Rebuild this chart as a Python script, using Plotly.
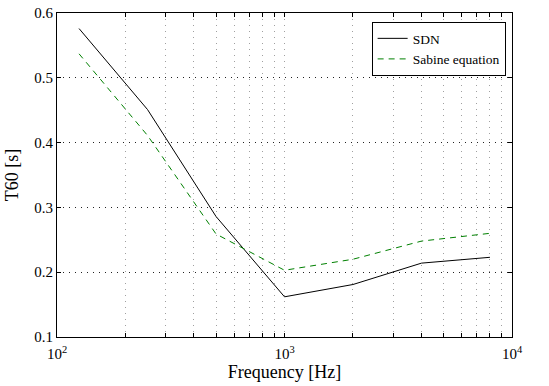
import plotly.graph_objects as go

freq = [125, 250, 500, 1000, 2000, 4000, 8000]
sdn = [0.576, 0.451, 0.286, 0.162, 0.181, 0.214, 0.223]
sabine = [0.537, 0.411, 0.259, 0.203, 0.220, 0.248, 0.260]

x_tickvals = [m * 10 ** e for e in (2, 3) for m in range(1, 10)] + [10000]
x_ticktext = ["10<sup>2</sup>" if v == 100 else "10<sup>3</sup>" if v == 1000 else
              "10<sup>4</sup>" if v == 10000 else "" for v in x_tickvals]
y_tickvals = [0.1, 0.2, 0.3, 0.4, 0.5, 0.6]

font = "Liberation Serif"

fig = go.Figure()
fig.add_trace(go.Scatter(x=freq, y=sdn, mode="lines", name="SDN",
                         line=dict(color="black", width=1)))
fig.add_trace(go.Scatter(x=freq, y=sabine, mode="lines", name="Sabine equation",
                         line=dict(color="#008000", width=1, dash="6px,5px")))

fig.update_layout(
    width=549, height=386,
    margin=dict(l=57, r=37, t=13, b=49),
    paper_bgcolor="white", plot_bgcolor="white",
    font=dict(family=font, size=15, color="black"),
    showlegend=True,
    legend=dict(x=0.986, y=0.972, xanchor="right", yanchor="top",
                bgcolor="white", bordercolor="black", borderwidth=1,
                font=dict(family=font, size=13.5), tracegroupgap=2),
    xaxis=dict(type="log", range=[2, 4], tickmode="array",
               tickvals=x_tickvals, ticktext=x_ticktext,
               showgrid=True, gridcolor="#a0a0a0", griddash="1px,5px", gridwidth=1,
               showline=True, linecolor="black", linewidth=1, mirror="ticks",
               ticks="inside", ticklen=4, tickcolor="black",
               ticklabelstandoff=3, automargin=False,
               title=dict(text="Frequency [Hz]", standoff=3),
               zeroline=False),
    yaxis=dict(range=[0.1, 0.6], tickmode="array", tickvals=y_tickvals,
               ticktext=[f"{v:.1f}" for v in y_tickvals],
               showgrid=True, gridcolor="#222222", griddash="1px,5px", gridwidth=1,
               showline=True, linecolor="black", linewidth=1, mirror="ticks",
               ticks="inside", ticklen=4, tickcolor="black",
               automargin=False,
               title=dict(text="T60 [s]", standoff=10),
               zeroline=False),
)

fig.write_html("out.html")
